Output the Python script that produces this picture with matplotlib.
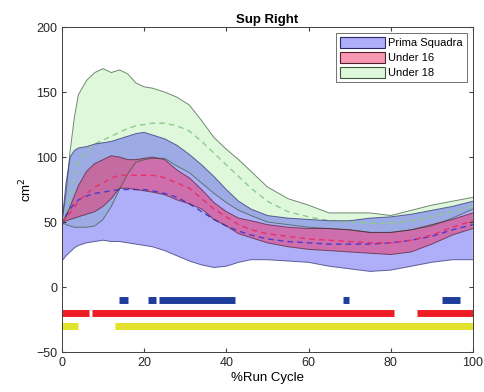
import matplotlib
matplotlib.use("Agg")
import matplotlib.pyplot as plt
from matplotlib.patches import Patch

plt.rcParams['font.family'] = ['Liberation Sans', 'DejaVu Sans']

# % of run cycle where the curves are sampled
cycle = [0, 1, 2, 3, 4, 6, 8, 10, 12, 14, 16, 18, 20, 22, 25, 28, 31, 34, 37, 40,
         43, 46, 50, 55, 60, 65, 70, 75, 80, 85, 90, 95, 100]

# Prima Squadra (mean, +SD, -SD), cm^2
prima_mean = [47, 55, 60, 64, 67, 70, 72, 73, 74, 75, 75, 75, 75, 74, 72, 69, 64, 58, 52, 47,
              43, 40, 37, 35, 34, 33, 33, 33, 34, 36, 39, 44, 48]
prima_upper = [50, 80, 100, 105, 107, 108, 110, 111, 112, 114, 116, 118, 119, 117, 114, 109, 102, 94, 85, 75,
               66, 60, 55, 53, 52, 51, 51, 53, 54, 56, 59, 62, 66]
prima_lower = [20, 24, 27, 30, 32, 34, 35, 36, 35, 35, 34, 33, 32, 31, 28, 24, 20, 17, 15, 16,
               19, 21, 21, 20, 19, 16, 14, 12, 13, 16, 19, 21, 21]

# Under 16
u16_mean = [50, 53, 57, 61, 66, 72, 77, 80, 84, 86, 86, 86, 86, 86, 84, 80, 76, 68, 60, 54,
            48, 44, 41, 39, 37, 36, 35, 34, 34, 36, 40, 46, 51]
u16_upper = [50, 55, 62, 70, 78, 89, 95, 98, 101, 100, 98, 98, 99, 100, 98, 90, 84, 75, 65, 58,
             53, 51, 48, 46, 45, 45, 44, 42, 42, 44, 48, 52, 57]
u16_lower = [50, 51, 52, 53, 54, 56, 58, 62, 68, 76, 76, 75, 74, 73, 71, 67, 64, 60, 52, 47,
             41, 38, 34, 31, 29, 28, 27, 26, 25, 27, 33, 40, 45]

# Under 18
u18_mean = [50, 55, 70, 85, 95, 105, 110, 113, 116, 119, 122, 124, 125, 126, 126, 124, 120, 112, 103, 94,
            85, 76, 66, 58, 54, 51, 50, 49, 49, 51, 54, 58, 62]
u18_upper = [50, 72, 105, 130, 148, 159, 165, 168, 165, 167, 164, 157, 154, 153, 150, 146, 140, 128, 115, 106,
             98, 89, 77, 68, 63, 57, 57, 57, 55, 59, 63, 66, 69]
u18_lower = [50, 48, 47, 46, 46, 46, 47, 52, 62, 75, 87, 96, 98, 99, 99, 93, 88, 80, 72, 65,
             59, 55, 50, 48, 46, 45, 44, 42, 42, 44, 47, 53, 60]

# significance bars: (start, end) in % cycle
sig_prima = [(14, 16), (21, 23), (23.5, 42), (68.3, 69.8), (92.4, 96.8)]
sig_u16 = [(0, 6.6), (7.3, 80.8), (86.3, 100)]
sig_u18 = [(0, 3.8), (13, 100)]

fig = plt.figure(figsize=(4.84, 3.92), dpi=100)
ax = fig.add_axes([0.128, 0.102, 0.849, 0.829])

# mean, upper, lower, face, alpha, edge, dashed mean colour
groups = {
    "Prima Squadra": (prima_mean, prima_upper, prima_lower, (0.22, 0.22, 0.95), 0.4, "#2a2a70", "#4a3ad0"),
    "Under 16": (u16_mean, u16_upper, u16_lower, (0.95, 0.15, 0.35), 0.47, "#502030", "#e8306a"),
    "Under 18": (u18_mean, u18_upper, u18_lower, (0.55, 0.9, 0.5), 0.28, "#3a5a3a", "#8ccc8c"),
}

# green goes down first, then blue, red on top
for name in ["Under 18", "Prima Squadra", "Under 16"]:
    mean, upper, lower, face, alpha, edge, dash = groups[name]
    ax.fill_between(cycle, lower, upper, facecolor=face, alpha=alpha, linewidth=0)

for name in ["Under 18", "Prima Squadra", "Under 16"]:
    mean, upper, lower, face, alpha, edge, dash = groups[name]
    ax.plot(cycle, upper, color=edge, linewidth=0.7, alpha=0.7)
    ax.plot(cycle, lower, color=edge, linewidth=0.7, alpha=0.7)
    ax.plot(cycle, mean, color=dash, linewidth=1.0, linestyle=(0, (4, 3)))

handles = []
for name in ["Prima Squadra", "Under 16", "Under 18"]:
    mean, upper, lower, face, alpha, edge, dash = groups[name]
    handles.append(Patch(facecolor=face + (alpha,), edgecolor=edge, linewidth=0.8, label=name))

for segs, level, col in [(sig_prima, -10, "#1e3c9c"), (sig_u16, -20, "#ee1c24"), (sig_u18, -30, "#e2e22a")]:
    for start, end in segs:
        ax.plot([start, end], [level, level], color=col, linewidth=5, solid_capstyle="butt")

ax.set_xlim(0, 100)
ax.set_ylim(-50, 200)
ax.set_xticks([0, 20, 40, 60, 80, 100])
ax.set_yticks([-50, 0, 50, 100, 150, 200])
ax.tick_params(direction="in", top=True, right=True, labelsize=9, length=3,
               color="0.25", labelcolor="0.15")
for spine in ax.spines.values():
    spine.set_color("0.25")
    spine.set_linewidth(0.7)

ax.set_title("Sup Right", fontsize=9.5, fontweight="bold", pad=3)
ax.set_xlabel("%Run Cycle", fontsize=9.5, labelpad=2)
ax.set_ylabel("cm$^2$", fontsize=9.5, labelpad=1)

leg = ax.legend(handles=handles, loc="upper right", fontsize=8, frameon=True, fancybox=False,
                handlelength=4.0, handleheight=1.2, borderpad=0.4, labelspacing=0.3,
                handletextpad=0.3, borderaxespad=0.5)
leg.get_frame().set_edgecolor("0.3")
leg.get_frame().set_linewidth(0.7)

fig.savefig("out.png", dpi=100)
